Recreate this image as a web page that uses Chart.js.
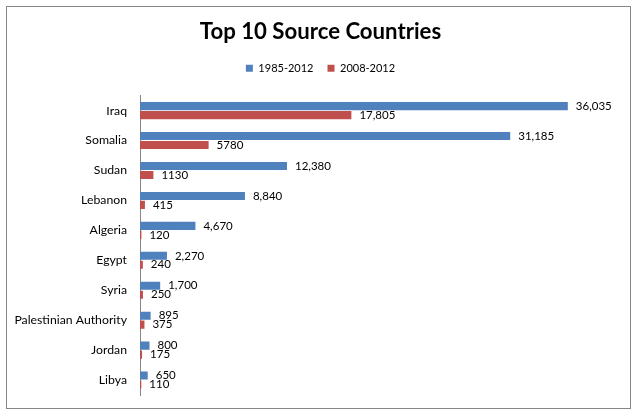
<!DOCTYPE html>
<html>
<head>
<meta charset="utf-8">
<script src="https://cdn.jsdelivr.net/npm/chart.js@4.4.0/dist/chart.umd.min.js"></script>
<style>
  html, body { margin: 0; padding: 0; background: #fff; }
  #wrap { width: 641px; height: 420px; position: relative; }
</style>
</head>
<body>
<div id="wrap"><canvas id="chart" width="641" height="420"></canvas></div>
<script>
// chart data
const countries = ['Iraq', 'Somalia', 'Sudan', 'Lebanon', 'Algeria', 'Egypt', 'Syria', 'Palestinian Authority', 'Jordan', 'Libya'];
const seriesNames = ['1985-2012', '2008-2012'];
const values1985 = [36035, 31185, 12380, 8840, 4670, 2270, 1700, 895, 800, 650];
const values2008 = [17805, 5780, 1130, 415, 120, 240, 250, 375, 175, 110];
// labels as printed on the chart (formatting is not consistent in the source)
const labels1985 = ['36,035', '31,185', '12,380', '8,840', '4,670', '2,270', '1,700', '895', '800', '650'];
const labels2008 = ['17,805', '5780', '1130', '415', '120', '240', '250', '375', '175', '110'];

const FONT = 'Lato, "Open Sans", sans-serif';

// draws the outer frame of the chart
const framePlugin = {
    id: 'frame',
    beforeDraw(chart) {
        const ctx = chart.ctx;
        ctx.save();
        ctx.fillStyle = '#fff';
        ctx.fillRect(0, 0, chart.width, chart.height);
        ctx.strokeStyle = '#868686';
        ctx.lineWidth = 1;
        ctx.strokeRect(6.5, 6.5, 624, 402);
        ctx.restore();
    }
};

// value labels at the end of each bar
const valueLabels = {
    id: 'valueLabels',
    afterDatasetsDraw(chart) {
        const ctx = chart.ctx;
        const texts = [labels1985, labels2008];
        ctx.save();
        ctx.font = '11.5px ' + FONT;
        ctx.fillStyle = '#000';
        ctx.textAlign = 'left';
        ctx.textBaseline = 'middle';
        chart.data.datasets.forEach((ds, i) => {
            const meta = chart.getDatasetMeta(i);
            meta.data.forEach((bar, j) => {
                ctx.fillText(texts[i][j], bar.x + 8, bar.y);
            });
        });
        ctx.restore();
    }
};

new Chart(document.getElementById('chart'), {
    type: 'bar',
    data: {
        labels: countries,
        datasets: [{
            label: seriesNames[0],
            data: values1985,
            backgroundColor: '#4F81BD',
            categoryPercentage: 0.6,
            barPercentage: 0.9
        }, {
            label: seriesNames[1],
            data: values2008,
            backgroundColor: '#C0504D',
            categoryPercentage: 0.6,
            barPercentage: 0.9
        }]
    },
    options: {
        indexAxis: 'y',
        responsive: false,
        animation: false,
        layout: {
            padding: { top: 0, right: 0, bottom: 25, left: 0 }
        },
        scales: {
            x: {
                position: 'top',
                min: 0,
                max: 42200,
                grid: { display: false, drawTicks: false },
                border: { display: false },
                ticks: { display: false },
                afterFit(scale) {
                    scale.height = 12;
                }
            },
            y: {
                grid: { display: false, drawTicks: false },
                border: { display: true, color: '#868686', width: 1 },
                ticks: {
                    color: '#000',
                    padding: 13,
                    font: { family: FONT, size: 12.25 }
                },
                afterFit(scale) {
                    scale.width = 140;
                }
            }
        },
        plugins: {
            title: {
                display: true,
                text: 'Top 10 Source Countries',
                color: '#000',
                font: { family: FONT, size: 22.2, weight: 'bold' },
                padding: { top: 19, bottom: 3 }
            },
            legend: {
                display: true,
                position: 'top',
                labels: {
                    color: '#000',
                    boxWidth: 7,
                    boxHeight: 7,
                    padding: 14,
                    font: { family: FONT, size: 11 }
                }
            },
            tooltip: { enabled: false }
        }
    },
    plugins: [framePlugin, valueLabels]
});
</script>
</body>
</html>
